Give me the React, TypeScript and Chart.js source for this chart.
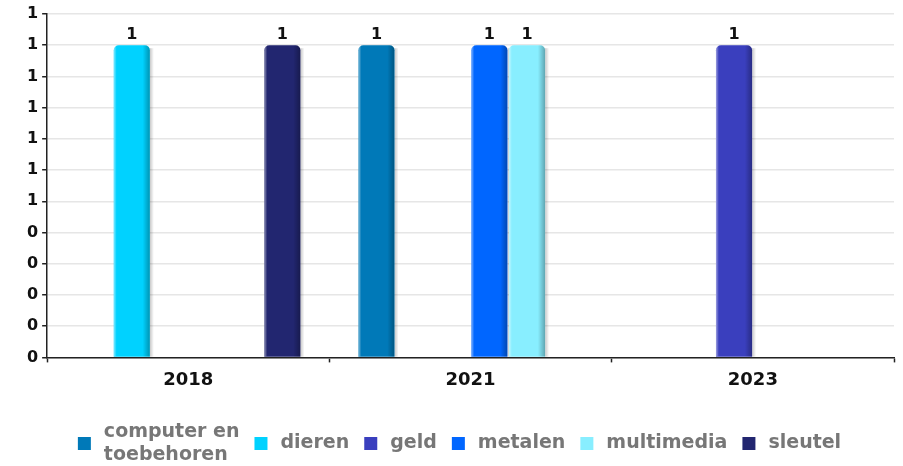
import React, { useEffect, useRef } from "react";
import { Chart, registerables } from "chart.js";

Chart.register(...registerables);

const categories = ["2018", "2021", "2023"];
const seriesNames: string[][] = [
  ["computer en", "toebehoren"],
  ["dieren"],
  ["geld"],
  ["metalen"],
  ["multimedia"],
  ["sleutel"],
];
const seriesColors = ["#0079B8", "#00D2FF", "#3A3FBE", "#0066FF", "#88EEFF", "#222670"];
const computerValues = [null, 1, null];
const dierenValues = [1, null, null];
const geldValues = [null, null, 1];
const metalenValues = [null, 1, null];
const multimediaValues = [null, 1, null];
const sleutelValues = [1, null, null];
const yTickLabels = ["0", "0", "0", "0", "0", "1", "1", "1", "1", "1", "1", "1"];
const valueLabels = ["1", "1", "1", "1", "1", "1"];

const FONT = '"DejaVu Sans", sans-serif';

const barEffects = {
  id: "barEffects",
  beforeDatasetsDraw(chart: any) {
    const ctx = chart.ctx;
    ctx.save();
    chart.data.datasets.forEach((_: any, di: number) => {
      const meta = chart.getDatasetMeta(di);
      meta.data.forEach((el: any, i: number) => {
        const v = chart.data.datasets[di].data[i];
        if (v == null) return;
        const { y, x, base, width } = el.getProps(["x", "y", "base", "width"], true);
        const r = x + width / 2;
        const g = ctx.createLinearGradient(r, 0, r + 4, 0);
        g.addColorStop(0, "rgba(0,0,0,0.22)");
        g.addColorStop(1, "rgba(0,0,0,0)");
        ctx.fillStyle = g;
        ctx.fillRect(r, y + 3, 4, base - y - 3);
      });
    });
    ctx.restore();
  },
  afterDatasetsDraw(chart: any) {
    const ctx = chart.ctx;
    chart.data.datasets.forEach((_: any, di: number) => {
      const meta = chart.getDatasetMeta(di);
      meta.data.forEach((el: any, i: number) => {
        const v = chart.data.datasets[di].data[i];
        if (v == null) return;
        const { x, y, base, width } = el.getProps(["x", "y", "base", "width"], true);
        const left = x - width / 2;
        ctx.save();
        ctx.beginPath();
        (ctx as any).roundRect(left, y, width, base - y, [5, 5, 0, 0]);
        ctx.clip();
        const g = ctx.createLinearGradient(left, 0, left + width, 0);
        g.addColorStop(0, "rgba(255,255,255,0.5)");
        g.addColorStop(0.08, "rgba(255,255,255,0)");
        g.addColorStop(0.8, "rgba(0,0,0,0)");
        g.addColorStop(1, "rgba(0,0,0,0.3)");
        ctx.fillStyle = g;
        ctx.fillRect(left, y, width, base - y);
        ctx.restore();
        ctx.save();
        ctx.font = `bold 16px ${FONT}`;
        ctx.fillStyle = "#111";
        ctx.textAlign = "center";
        ctx.textBaseline = "bottom";
        ctx.fillText(valueLabels[di], x, y - 2);
        ctx.restore();
      });
    });
  },
};

const customLegend = {
  id: "customLegend",
  afterDraw(chart: any) {
    const ctx = chart.ctx;
    ctx.save();
    ctx.font = `bold 19px ${FONT}`;
    const box = 13;
    const gap = 13;
    const itemGap = 15;
    const lineH = 23;
    const widths = seriesNames.map(
      (lines) => box + gap + Math.max(...lines.map((l) => ctx.measureText(l).width))
    );
    const total = widths.reduce((a, b) => a + b, 0) + itemGap * (widths.length - 1);
    let x = chart.width / 2 + 8 - total / 2;
    const cy = 443.5;
    seriesNames.forEach((lines, i) => {
      ctx.fillStyle = seriesColors[i];
      ctx.fillRect(x, cy - box / 2, box, box);
      ctx.fillStyle = "#777";
      ctx.textAlign = "left";
      ctx.textBaseline = "middle";
      const startY = cy - ((lines.length - 1) * lineH) / 2;
      lines.forEach((l, li) => ctx.fillText(l, x + box + gap, startY + li * lineH));
      x += widths[i] + itemGap;
    });
    ctx.restore();
  },
};

export default function App() {
  const ref = useRef<HTMLCanvasElement | null>(null);
  useEffect(() => {
    document.body.style.margin = "0";
    const valueSets = [computerValues, dierenValues, geldValues, metalenValues, multimediaValues, sleutelValues];
    const chart = new Chart(ref.current!, {
      type: "bar",
      data: {
        labels: categories,
        datasets: valueSets.map((vals, i) => ({
          label: seriesNames[i].join(" "),
          data: vals,
          backgroundColor: seriesColors[i],
          borderWidth: 0,
          borderRadius: { topLeft: 5, topRight: 5, bottomLeft: 0, bottomRight: 0 },
          borderSkipped: "bottom",
          categoryPercentage: 0.8,
          barPercentage: 0.96,
        })),
      },
      options: {
        responsive: false,
        animation: false,
        layout: { padding: { left: 23, right: 9, top: 14, bottom: 68 } },
        plugins: {
          legend: { display: false },
          tooltip: { enabled: false },
        },
        scales: {
          x: {
            grid: {
              display: true,
              drawOnChartArea: false,
              drawTicks: true,
              tickLength: 5,
              tickColor: "#222",
              tickWidth: 1.5,
            },
            border: { display: true, color: "#222", width: 1.5 },
            ticks: {
              color: "#111",
              font: { family: FONT, size: 18, weight: "bold" },
              padding: 7,
            },
          },
          y: {
            min: 0,
            max: 1.1,
            ticks: {
              stepSize: 0.1,
              color: "#111",
              font: { family: FONT, size: 16, weight: "bold" },
              padding: 4,
              callback: (_v: any, idx: number) => yTickLabels[idx],
            },
            grid: {
              color: "#e6e6e6",
              lineWidth: 1.5,
              tickColor: "#222",
              tickLength: 5,
              tickWidth: 1.5,
            },
            border: { display: true, color: "#222", width: 1.5 },
          },
        },
      },
      plugins: [barEffects, customLegend],
    });
    return () => chart.destroy();
  }, []);
  return (
    <div style={{ width: 903, height: 466 }}>
      <canvas ref={ref} width={903} height={466} />
    </div>
  );
}
